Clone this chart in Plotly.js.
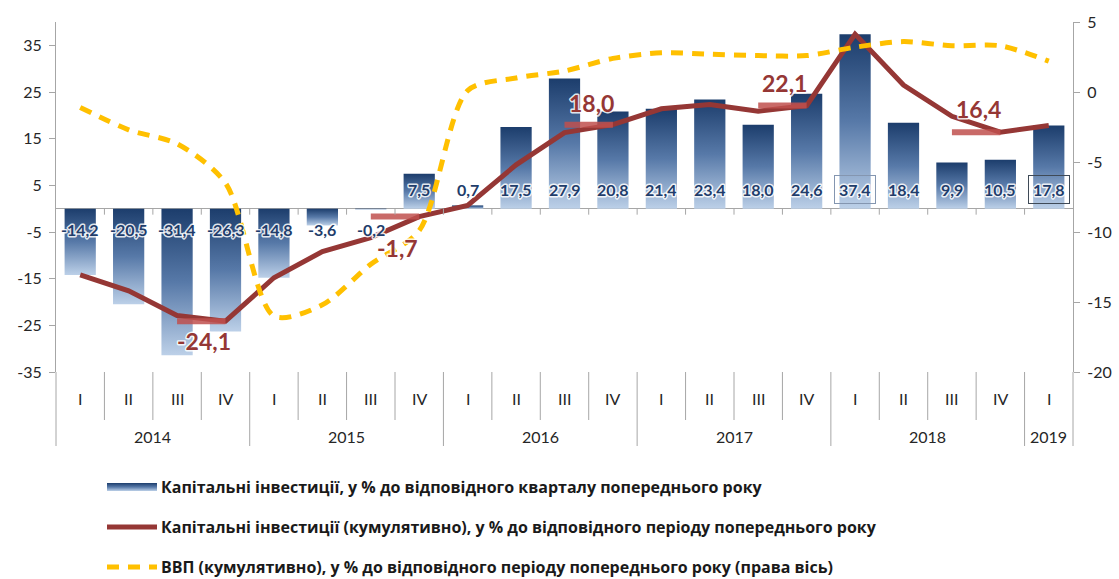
<!DOCTYPE html>
<html>
<head>
<meta charset="utf-8">
<script src="https://cdn.plot.ly/plotly-3.0.1.min.js"></script>
<style>
html,body{margin:0;padding:0;background:#ffffff;}
#chart{width:1119px;height:579px;}
</style>
</head>
<body>
<div id="chart"></div>
<script>
// ---------------- data ----------------
const years = ['2014', '2015', '2016', '2017', '2018', '2019'];
const quartersInYear = [4, 4, 4, 4, 4, 1];
const quarters = ['I','II','III','IV','I','II','III','IV','I','II','III','IV','I','II','III','IV','I','II','III','IV','I'];
const investQuarterly = [-14.2, -20.5, -31.4, -26.3, -14.8, -3.6, -0.2, 7.5, 0.7, 17.5, 27.9, 20.8, 21.4, 23.4, 18.0, 24.6, 37.4, 18.4, 9.9, 10.5, 17.8];
const investCumulative = [-14.2, -17.6, -22.9, -24.1, -14.8, -9.2, -6.2, -1.7, 0.7, 9.4, 16.3, 18.0, 21.4, 22.3, 20.9, 22.1, 37.4, 26.5, 19.8, 16.4, 17.8];
const gdpCumulative = [-1.1, -2.7, -3.7, -6.5, -16.0, -15.2, -12.3, -9.9, 0.1, 1.0, 1.5, 2.4, 2.8, 2.7, 2.6, 2.6, 3.2, 3.6, 3.3, 3.3, 2.2];
const annualYears = ['2014', '2015', '2016', '2017', '2018'];
const annualInvest = [-24.1, -1.7, 18.0, 22.1, 16.4];
const leftTicks = [-35, -25, -15, -5, 5, 15, 25, 35];
const rightTicks = [-20, -15, -10, -5, 0, 5];
const seriesNames = [
  'Капітальні інвестиції, у % до відповідного кварталу попереднього року',
  'Капітальні інвестиції (кумулятивно), у % до відповідного періоду попереднього року',
  'ВВП (кумулятивно), у % до відповідного періоду попереднього року (права вісь)'
];

// ---------------- styles ----------------
const NUM_FONT = 'Lato, "Open Sans", sans-serif';
const TXT_FONT = '"Open Sans", Roboto, sans-serif';
const AXIS_COLOR = '#a6a6a6';
const BAR_LABEL_COLOR = '#1f3d6b';
const RED = '#953735';
const ANNUAL_RED = 'rgba(192,80,77,0.85)';
const YELLOW = '#ffc000';
const boxedLabels = {16: '#8496b0', 20: '#3f4a57'};
const annualLabelShift = [-20, -31, 22, 23, 23];

// ---------------- derived ----------------
const yearOfPoint = [];
years.forEach((y, i) => { for (let k = 0; k < quartersInYear[i]; k++) yearOfPoint.push(y); });
const cats = quarters.map((q, i) => yearOfPoint[i] + ' ' + q);
const fmt = v => v.toFixed(1).replace('.', ',');

// annual segments (from III to IV quarter of each year)
const segX = [], segY = [];
annualYears.forEach((y, i) => {
  segX.push(y + ' III', y + ' IV', null);
  segY.push(annualInvest[i], annualInvest[i], null);
});

const traces = [
  {
    type: 'bar', name: seriesNames[0], x: cats, y: investQuarterly,
    marker: {color: '#4f6f9f', line: {width: 0}}, yaxis: 'y', hoverinfo: 'x+y'
  },
  {
    type: 'scatter', mode: 'lines', name: seriesNames[2], x: cats, y: gdpCumulative,
    yaxis: 'y2', line: {color: YELLOW, width: 5, dash: '12px,9px', shape: 'spline', smoothing: 0.8}
  },
  {
    type: 'scatter', mode: 'lines', name: seriesNames[1], x: cats, y: investCumulative,
    yaxis: 'y', line: {color: RED, width: 5}
  },
  {
    type: 'scatter', mode: 'lines', name: 'annual', x: segX, y: segY, yaxis: 'y',
    line: {color: ANNUAL_RED, width: 6}, connectgaps: false, hoverinfo: 'y'
  }
];

const annotations = [];
const glowIdx = [];
// bar labels
investQuarterly.forEach((v, i) => {
  const a = {
    x: cats[i], y: 0, xref: 'x', yref: 'y', text: fmt(v), showarrow: false,
    yshift: v >= 0 ? 19 : -21,
    font: {family: NUM_FONT, size: 16, color: BAR_LABEL_COLOR, weight: 'bold'}
  };
  if (boxedLabels[i]) { a.bordercolor = boxedLabels[i]; a.borderwidth = 1; a.borderpad = 4; }
  glowIdx.push(annotations.length);
  annotations.push(a);
});
// annual labels
annualYears.forEach((y, i) => {
  const idx = cats.indexOf(y + ' III');
  glowIdx.push(annotations.length);
  annotations.push({
    x: idx + 0.55, y: annualInvest[i], xref: 'x', yref: 'y', text: fmt(annualInvest[i]),
    showarrow: false, yshift: annualLabelShift[i],
    font: {family: NUM_FONT, size: 23, color: RED, weight: 'bold'}
  });
});
// quarter labels
quarters.forEach((q, i) => {
  annotations.push({
    x: cats[i], y: 0, xref: 'x', yref: 'paper', yanchor: 'middle', yshift: -26,
    text: q, showarrow: false, font: {family: NUM_FONT, size: 16, color: '#262626'}
  });
});
// year labels
let start = 0;
years.forEach((y, i) => {
  const end = start + quartersInYear[i] - 1;
  annotations.push({
    x: (start + end) / 2, y: 0, xref: 'x', yref: 'paper', yanchor: 'middle', yshift: -64,
    text: y, showarrow: false, font: {family: NUM_FONT, size: 16, color: '#262626'}
  });
  start = end + 1;
});
// legend texts
seriesNames.forEach((n, i) => {
  annotations.push({
    x: 0, y: 0, xref: 'paper', yref: 'paper', xanchor: 'left', yanchor: 'middle',
    xshift: 103, yshift: -(115 + 40 * i), text: n, showarrow: false,
    font: {family: TXT_FONT, size: 16, color: '#1a1a1a', weight: 'bold'}
  });
});

const shapes = [];
const pix = {ysizemode: 'pixel', yanchor: 0};
// separators below the plot
let boundaryIsYear = new Array(cats.length + 1).fill(false);
start = 0;
boundaryIsYear[0] = true;
quartersInYear.forEach(n => { start += n; boundaryIsYear[start] = true; });
for (let k = 1; k < cats.length; k++) {
  shapes.push(Object.assign({type: 'line', xref: 'x', yref: 'paper', x0: k - 0.5, x1: k - 0.5,
    y0: 0, y1: boundaryIsYear[k] ? -74 : -48, line: {color: AXIS_COLOR, width: 1}}, pix));
  // tick marks on the zero line
  shapes.push(Object.assign({type: 'line', xref: 'x', yref: 'y', x0: k - 0.5, x1: k - 0.5,
    y0: 0, y1: -6, line: {color: AXIS_COLOR, width: 1}}, pix));
}
[0, 1].forEach(px => {
  shapes.push(Object.assign({type: 'line', xref: 'paper', yref: 'paper', x0: px, x1: px,
    y0: 0, y1: -74, line: {color: AXIS_COLOR, width: 1}}, pix));
});
// legend swatches
const lx = {xsizemode: 'pixel', xanchor: 0};
shapes.push(Object.assign({type: 'rect', xref: 'paper', yref: 'paper', x0: 51, x1: 101, y0: -111, y1: -119,
  fillcolor: 'rgb(44,80,130)', line: {width: 0}}, pix, lx));
shapes.push(Object.assign({type: 'line', xref: 'paper', yref: 'paper', x0: 51, x1: 101, y0: -155, y1: -155,
  line: {color: RED, width: 5}}, pix, lx));
shapes.push(Object.assign({type: 'line', xref: 'paper', yref: 'paper', x0: 51, x1: 101, y0: -195, y1: -195,
  line: {color: YELLOW, width: 5, dash: '12px,9px'}}, pix, lx));

const layout = {
  width: 1119, height: 579,
  margin: {l: 56, r: 46, t: 22, b: 207, pad: 0},
  paper_bgcolor: '#ffffff', plot_bgcolor: '#ffffff',
  showlegend: false,
  bargap: 0.355,
  xaxis: {
    type: 'category', categoryorder: 'array', categoryarray: cats,
    range: [-0.5, cats.length - 0.5], showticklabels: false, ticks: '',
    showgrid: false, zeroline: false, showline: false, fixedrange: true
  },
  yaxis: {
    range: [-35, 40], tickvals: leftTicks, ticktext: leftTicks.map(String),
    showgrid: false, zeroline: true, zerolinecolor: AXIS_COLOR, zerolinewidth: 1,
    showline: true, linecolor: AXIS_COLOR, linewidth: 1,
    ticks: 'outside', ticklen: 6, tickcolor: AXIS_COLOR, ticklabelstandoff: 4,
    tickfont: {family: NUM_FONT, size: 16, color: '#262626'}, fixedrange: true
  },
  yaxis2: {
    overlaying: 'y', side: 'right', range: [-20, 5], tickvals: rightTicks, ticktext: rightTicks.map(String),
    showgrid: false, zeroline: false, showline: true, linecolor: AXIS_COLOR, linewidth: 1,
    ticks: 'outside', ticklen: 6, tickcolor: AXIS_COLOR, ticklabelstandoff: 4,
    tickfont: {family: NUM_FONT, size: 16, color: '#262626'}, fixedrange: true
  },
  annotations: annotations,
  shapes: shapes
};

Plotly.newPlot('chart', traces, layout, {staticPlot: true, displayModeBar: false}).then(gd => {
  const NS = 'http://www.w3.org/2000/svg';
  const svg = gd.querySelector('svg.main-svg');
  let defs = svg.querySelector('defs');
  if (!defs) { defs = document.createElementNS(NS, 'defs'); svg.insertBefore(defs, svg.firstChild); }
  const lg = document.createElementNS(NS, 'linearGradient');
  lg.setAttribute('id', 'barGrad');
  lg.setAttribute('x1', '0'); lg.setAttribute('y1', '0');
  lg.setAttribute('x2', '0'); lg.setAttribute('y2', '1');
  [['0', '#1c3d6c'], ['0.5', '#5779a8'], ['1', '#bcd0e8']].forEach(s => {
    const st = document.createElementNS(NS, 'stop');
    st.setAttribute('offset', s[0]); st.setAttribute('stop-color', s[1]);
    lg.appendChild(st);
  });
  defs.appendChild(lg);
  gd.querySelectorAll('.barlayer .point path').forEach(p => { p.style.fill = 'url(#barGrad)'; });
  gd.querySelectorAll('.shapelayer path').forEach(p => {
    if (p.style.fill === 'rgb(44, 80, 130)') p.style.fill = 'url(#barGrad)';
  });
  // white glow behind data labels
  gd.querySelectorAll('.annotation').forEach(g => {
    const idx = +g.getAttribute('data-index');
    if (glowIdx.indexOf(idx) >= 0) {
      const t = g.querySelector('text');
      if (t) {
        t.style.paintOrder = 'stroke';
        t.style.stroke = 'rgba(255,255,255,0.85)';
        t.style.strokeWidth = '3px';
        t.style.strokeLinejoin = 'round';
      }
    }
  });
});
</script>
</body>
</html>
